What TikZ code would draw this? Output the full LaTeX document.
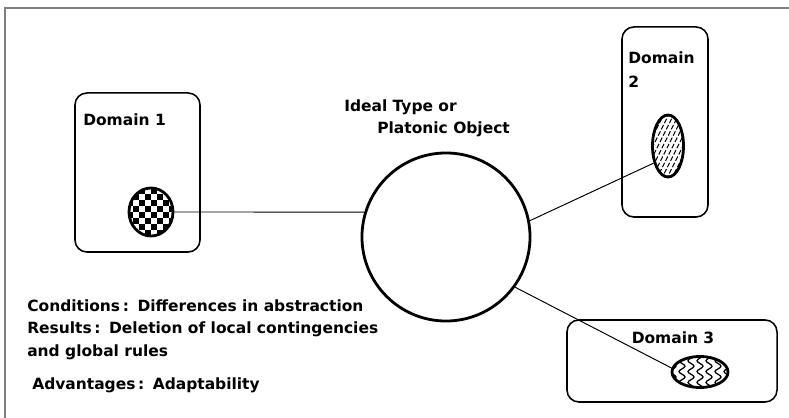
\documentclass[tikz,border=0pt]{standalone}
\usepackage{fontspec}
\setmainfont{DejaVu Sans}
\usetikzlibrary{shapes.geometric,decorations.pathmorphing,calc}

\begin{document}
\begin{tikzpicture}
[x=0.025cm, y=-0.025cm,
domnode/.style={rectangle, rounded corners=3mm, draw, line width=1.1pt},
objnode/.style={ellipse, draw, line width=2pt, inner sep=0},
idealnode/.style={circle, draw, line width=2pt, minimum size=4.2cm, inner sep=0},
txtnode/.style={anchor=west, inner sep=0, font=\fontsize{11}{17}\selectfont\bfseries},
link/.style={line width=0.7pt},
]
\useasboundingbox (0,0) rectangle (789,418);
%frame
\draw[gray, line width=1pt] (5,418) -- (5,8) -- (789,8);
%domains
\node[domnode, minimum width=3.125cm, minimum height=3.975cm](dom1) at (137.5,172.5){};
\node[domnode, minimum width=2.15cm, minimum height=4.75cm](dom2) at (665,122){};
\node[domnode, minimum width=5.25cm, minimum height=2.05cm](dom3) at (672,361){};
\node[txtnode](lab1) at (83,120){Domain 1};
\node[txtnode, align=left](lab2) at (628,70){Domain\\2};
\node[txtnode, anchor=center](lab3) at (673,338){Domain 3};
%objects
\node[objnode, minimum width=1.1cm, minimum height=1.2cm,
  path picture={\foreach \i in {-4,...,3} \foreach \j in {-4,...,3} {
    \pgfmathtruncatemacro\c{mod(\i+\j+10,2)}
    \ifnum\c=0 \fill ([shift={(\i*6,\j*6)}]path picture bounding box.center) rectangle +(6,6); \fi}}
  ](obj1) at (151,212){};
\node[objnode, minimum width=0.775cm, minimum height=1.55cm,
  path picture={\foreach \k in {-45,-40,...,45}
    \draw[line width=0.65pt, dash pattern=on 3.5pt off 1.5pt] ([shift={(\k-20,40)}]path picture bounding box.center) -- +(40,-80);}
  ](obj2) at (668,146){};
\node[objnode, minimum width=1.4cm, minimum height=0.775cm,
  path picture={\foreach \k in {-36,-27,...,36}
    \draw[line width=0.9pt, decorate, decoration={snake, amplitude=0.075cm, segment length=0.27cm}] ([shift={(\k,-20)}]path picture bounding box.center) -- +(0,40);}
  ](obj3) at (700,372){};
%ideal type
\node[idealnode](ideal) at (446,237){};
\node[txtnode](idl1) at (344,107){Ideal Type or};
\node[txtnode](idl2) at (377,129){Platonic Object};
%links
\draw[link] (obj1.east) -- (ideal.163);
\draw[link] (ideal.11) -- (obj2.230);
\draw[link] (ideal.-36) -- (obj3.172);
%notes
\node[txtnode](cond) at (27,306){Conditions\,:\;\;Differences in abstraction};
\node[txtnode](res1) at (27,329){Results\,:\;\;Deletion of local contingencies};
\node[txtnode](res2) at (27,352){and global rules};
\node[txtnode](adv) at (32,385){Advantages\,:\;\;Adaptability};
\end{tikzpicture}
\end{document}
